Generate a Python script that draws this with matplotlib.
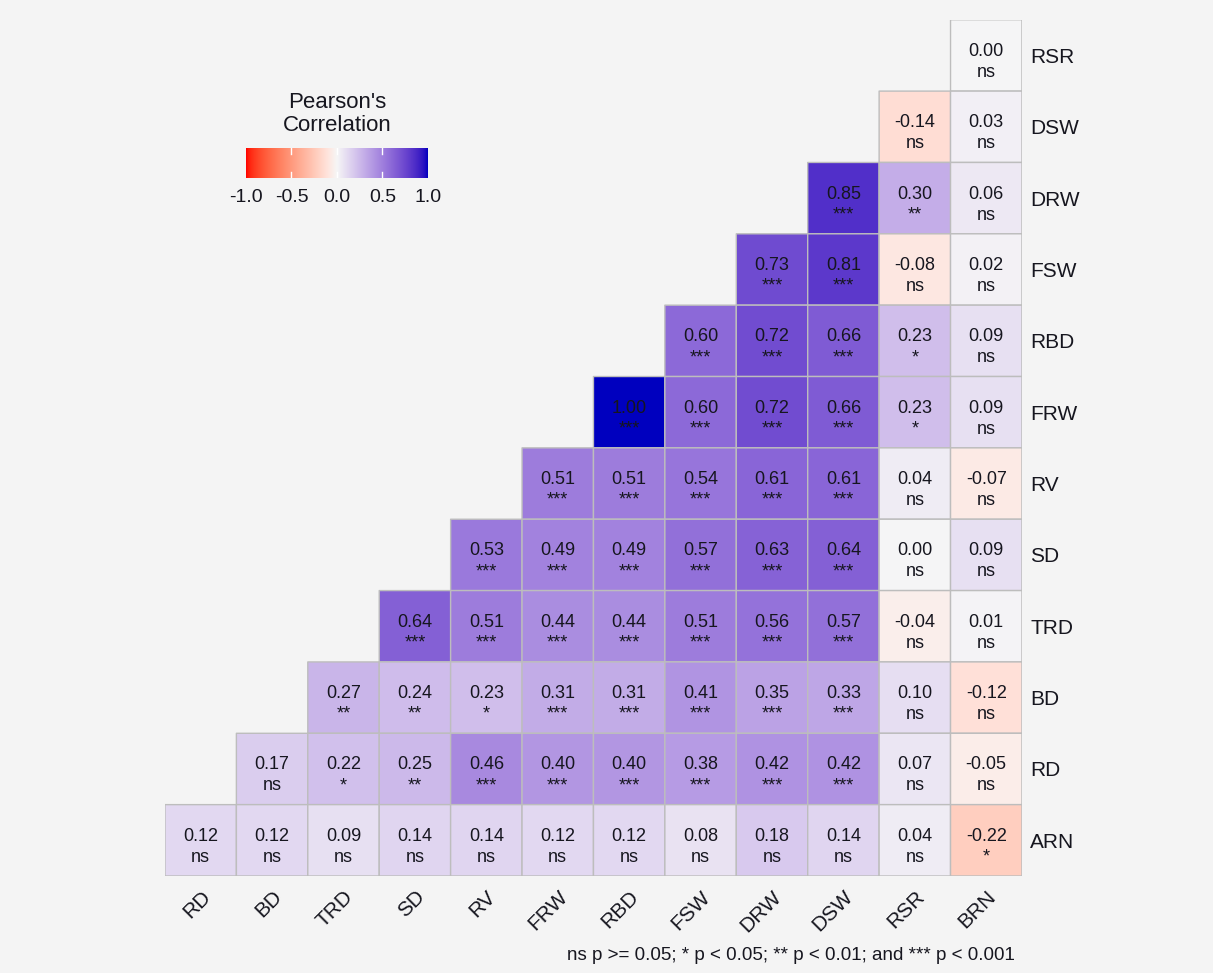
import numpy as np
import matplotlib
matplotlib.use('Agg')
import matplotlib.pyplot as plt
from matplotlib.colors import ListedColormap

plt.rcParams['font.family'] = ['Liberation Sans', 'DejaVu Sans']

# variables, rows listed top to bottom, columns left to right
row_names = ['RSR', 'DSW', 'DRW', 'FSW', 'RBD', 'FRW', 'RV', 'SD', 'TRD', 'BD', 'RD', 'ARN']
col_names = ['RD', 'BD', 'TRD', 'SD', 'RV', 'FRW', 'RBD', 'FSW', 'DRW', 'DSW', 'RSR', 'BRN']

# each row only fills the right-hand part of the triangle
r_rsr = [0.00]
r_dsw = [-0.14, 0.03]
r_drw = [0.85, 0.30, 0.06]
r_fsw = [0.73, 0.81, -0.08, 0.02]
r_rbd = [0.60, 0.72, 0.66, 0.23, 0.09]
r_frw = [1.00, 0.60, 0.72, 0.66, 0.23, 0.09]
r_rv = [0.51, 0.51, 0.54, 0.61, 0.61, 0.04, -0.07]
r_sd = [0.53, 0.49, 0.49, 0.57, 0.63, 0.64, 0.00, 0.09]
r_trd = [0.64, 0.51, 0.44, 0.44, 0.51, 0.56, 0.57, -0.04, 0.01]
r_bd = [0.27, 0.24, 0.23, 0.31, 0.31, 0.41, 0.35, 0.33, 0.10, -0.12]
r_rd = [0.17, 0.22, 0.25, 0.46, 0.40, 0.40, 0.38, 0.42, 0.42, 0.07, -0.05]
r_arn = [0.12, 0.12, 0.09, 0.14, 0.14, 0.12, 0.12, 0.08, 0.18, 0.14, 0.04, -0.22]

s_rsr = ['ns']
s_dsw = ['ns', 'ns']
s_drw = ['***', '**', 'ns']
s_fsw = ['***', '***', 'ns', 'ns']
s_rbd = ['***', '***', '***', '*', 'ns']
s_frw = ['***', '***', '***', '***', '*', 'ns']
s_rv = ['***', '***', '***', '***', '***', 'ns', 'ns']
s_sd = ['***', '***', '***', '***', '***', '***', 'ns', 'ns']
s_trd = ['***', '***', '***', '***', '***', '***', '***', 'ns', 'ns']
s_bd = ['**', '**', '*', '***', '***', '***', '***', '***', 'ns', 'ns']
s_rd = ['ns', '*', '**', '***', '***', '***', '***', '***', '***', 'ns', 'ns']
s_arn = ['ns', 'ns', 'ns', 'ns', 'ns', 'ns', 'ns', 'ns', 'ns', 'ns', 'ns', '*']

rows = [r_rsr, r_dsw, r_drw, r_fsw, r_rbd, r_frw, r_rv, r_sd, r_trd, r_bd, r_rd, r_arn]
sigs = [s_rsr, s_dsw, s_drw, s_fsw, s_rbd, s_frw, s_rv, s_sd, s_trd, s_bd, s_rd, s_arn]

legend_ticks = [-1.0, -0.5, 0.0, 0.5, 1.0]
caption = 'ns p >= 0.05; * p < 0.05; ** p < 0.01; and *** p < 0.001'


def srgb_to_lab(c):
    c = np.asarray(c, float)
    lin = np.where(c <= 0.04045, c / 12.92, ((c + 0.055) / 1.055) ** 2.4)
    M = np.array([[0.4124, 0.3576, 0.1805],
                  [0.2126, 0.7152, 0.0722],
                  [0.0193, 0.1192, 0.9505]])
    xyz = M @ lin / np.array([0.95047, 1.0, 1.08883])
    f = np.where(xyz > 0.008856, np.cbrt(xyz), 7.787 * xyz + 16 / 116)
    return np.array([116 * f[1] - 16, 500 * (f[0] - f[1]), 200 * (f[1] - f[2])])


def lab_to_srgb(lab):
    L, a, b = lab
    fy = (L + 16) / 116
    f = np.array([fy + a / 500, fy, fy - b / 200])
    xyz = np.where(f ** 3 > 0.008856, f ** 3, (f - 16 / 116) / 7.787)
    xyz = xyz * np.array([0.95047, 1.0, 1.08883])
    Minv = np.array([[3.2406, -1.5372, -0.4986],
                     [-0.9689, 1.8758, 0.0415],
                     [0.0557, -0.2040, 1.0570]])
    lin = Minv @ xyz
    c = np.where(lin <= 0.0031308, 12.92 * lin, 1.055 * np.clip(lin, 0, None) ** (1 / 2.4) - 0.055)
    return np.clip(c, 0, 1)


# diverging gradient interpolated in Lab, like ggplot's gradient2
low = srgb_to_lab([1.0, 0.0, 0.0])
mid = srgb_to_lab([0.965, 0.965, 0.965])
high = srgb_to_lab([0.0, 0.0, 0.75])
cols = []
for t in np.linspace(-1, 1, 256):
    if t < 0:
        lab = mid + (low - mid) * (-t)
    else:
        lab = mid + (high - mid) * t
    cols.append(lab_to_srgb(lab))
cmap = ListedColormap(cols)

n = len(col_names)
mat = np.full((n, n), np.nan)
for i, vals in enumerate(rows):
    mat[i, n - len(vals):] = vals
mat = np.ma.masked_invalid(mat)

bg = '#f4f4f4'
txt = '#16161f'
fig = plt.figure(figsize=(12.13, 9.73), dpi=100, facecolor=bg)
ax = fig.add_axes([0.136, 0.0997, 0.7065, 0.880], facecolor=bg)

ax.pcolor(np.arange(n + 1), np.arange(n + 1), mat, cmap=cmap, vmin=-1, vmax=1,
          edgecolors='#bdbdbd', linewidth=1.0)
ax.set_xlim(0, n)
ax.set_ylim(n, 0)

# value on top, significance marker underneath
for i, (vals, ss) in enumerate(zip(rows, sigs)):
    for k, (v, s) in enumerate(zip(vals, ss)):
        j = n - len(vals) + k
        ax.text(j + 0.5, i + 0.59, f'{v:.2f}\n{s}', ha='center', va='center',
                fontsize=13, color=txt, linespacing=1.3)

ax.set_xticks(np.arange(n) + 0.5)
ax.set_xticklabels(col_names, rotation=45, ha='right', va='top',
                   rotation_mode='anchor', fontsize=15, color=txt)
ax.set_yticks(np.arange(n) + 0.5)
ax.set_yticklabels(row_names, fontsize=15, color=txt)
ax.yaxis.tick_right()
ax.tick_params(axis='both', length=0)
ax.tick_params(axis='x', pad=8)
ax.tick_params(axis='y', pad=6)
for sp in ax.spines.values():
    sp.set_visible(False)

# colour legend
cax = fig.add_axes([0.2028, 0.817, 0.150, 0.031])
grad = np.linspace(-1, 1, 256).reshape(1, -1)
cax.imshow(grad, cmap=cmap, vmin=-1, vmax=1, aspect='auto', extent=[-1, 1, 0, 1])
for tk in [-0.5, 0.0, 0.5]:
    cax.plot([tk, tk], [0, 0.2], color='white', lw=1)
    cax.plot([tk, tk], [0.8, 1], color='white', lw=1)
cax.set_xlim(-1, 1)
cax.set_ylim(0, 1)
cax.set_xticks(legend_ticks)
cax.set_xticklabels([f'{t:.1f}' for t in legend_ticks], fontsize=14, color=txt)
cax.set_yticks([])
cax.tick_params(axis='x', length=0, pad=8)
for sp in cax.spines.values():
    sp.set_visible(False)
cax.set_title("Pearson's\nCorrelation", fontsize=16, color=txt, pad=12, linespacing=1.15)

fig.text(0.837, 0.009, caption, ha='right', va='bottom', fontsize=13.5, color=txt)

fig.savefig('out.png', dpi=100, facecolor=bg)
